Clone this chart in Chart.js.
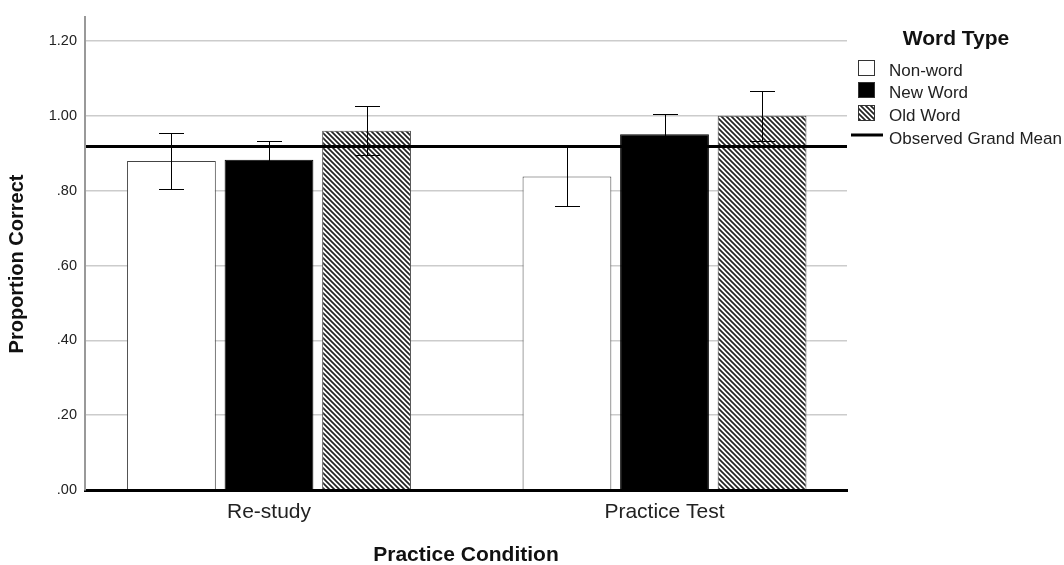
<!DOCTYPE html>
<html>
<head>
<meta charset="utf-8">
<title>Proportion Correct by Practice Condition</title>
<script src="https://cdn.jsdelivr.net/npm/chart.js@4.4.0/dist/chart.umd.min.js"></script>
<style>
  html, body { margin: 0; padding: 0; background: #fff; }
  canvas { display: block; }
</style>
</head>
<body>
<canvas id="wordChart" width="1064" height="565"></canvas>
<script>
const conditions = ['Re-study', 'Practice Test'];
const wordTypes = ['Non-word', 'New Word', 'Old Word'];
const nonWord = [0.879, 0.838];
const newWord = [0.883, 0.951];
const oldWord = [0.960, 1.000];
const nonWordErr = [0.075, 0.078];
const newWordErr = [0.051, 0.053];
const oldWordErr = [0.065, 0.067];
const grandMean = 0.918;
const yTicks = [0, 0.2, 0.4, 0.6, 0.8, 1.0, 1.2];
const yTickLabels = ['.00', '.20', '.40', '.60', '.80', '1.00', '1.20'];

const FONT = "'Liberation Sans', Arial, sans-serif";

document.addEventListener('DOMContentLoaded', function() {
    const canvas = document.getElementById('wordChart');
    const ctx = canvas.getContext('2d');

    // diagonal hatch for the Old Word bars
    function makeHatch() {
        const c = document.createElement('canvas');
        c.width = 5; c.height = 5;
        const g = c.getContext('2d');
        g.fillStyle = '#fff';
        g.fillRect(0, 0, 5, 5);
        g.strokeStyle = '#222';
        g.lineWidth = 1.7;
        g.beginPath();
        g.moveTo(-1, -1); g.lineTo(6, 6);
        g.moveTo(-1, 4); g.lineTo(1, 6);
        g.moveTo(4, -1); g.lineTo(6, 1);
        g.stroke();
        return ctx.createPattern(c, 'repeat');
    }
    const hatch = makeHatch();

    const series = [
        { values: nonWord, err: nonWordErr, fill: '#ffffff', border: '#444' },
        { values: newWord, err: newWordErr, fill: '#000000', border: '#000' },
        { values: oldWord, err: oldWordErr, fill: hatch, border: '#444' }
    ];

    const errorBars = {
        id: 'errorBars',
        afterDatasetsDraw(chart) {
            const c = chart.ctx;
            const y = chart.scales.y;
            c.save();
            c.strokeStyle = '#000';
            c.lineWidth = 1;
            chart.data.datasets.forEach((ds, di) => {
                const meta = chart.getDatasetMeta(di);
                meta.data.forEach((bar, i) => {
                    const v = ds.data[i].y;
                    const e = ds.errors[i];
                    const x = Math.round(bar.x) + 0.5;
                    const top = Math.round(y.getPixelForValue(v + e)) + 0.5;
                    const bot = Math.round(y.getPixelForValue(v - e)) + 0.5;
                    const half = 12.5;
                    c.beginPath();
                    c.moveTo(x, top); c.lineTo(x, bot);
                    c.moveTo(x - half, top); c.lineTo(x + half, top);
                    c.moveTo(x - half, bot); c.lineTo(x + half, bot);
                    c.stroke();
                });
            });
            // observed grand mean
            const gy = y.getPixelForValue(grandMean);
            c.lineWidth = 3;
            c.beginPath();
            c.moveTo(chart.chartArea.left, gy);
            c.lineTo(chart.chartArea.right, gy);
            c.stroke();

            // y axis title, centred as in the SPSS output
            c.translate(17, 264);
            c.rotate(-Math.PI / 2);
            c.fillStyle = '#111';
            c.font = 'bold 20px ' + FONT;
            c.textAlign = 'center';
            c.textBaseline = 'middle';
            c.fillText('Proportion Correct', 0, 0);
            c.restore();
        }
    };

    const sideLegend = {
        id: 'sideLegend',
        afterDraw(chart) {
            const c = chart.ctx;
            c.save();
            c.fillStyle = '#111';
            c.font = 'bold 21px ' + FONT;
            c.textAlign = 'center';
            c.textBaseline = 'alphabetic';
            c.fillText('Word Type', 956, 45);

            const boxY = [60, 82, 105];
            const textY = [76, 98, 121, 143.5];
            c.textAlign = 'left';
            c.font = '17px ' + FONT;
            series.forEach((s, i) => {
                c.fillStyle = s.fill;
                c.fillRect(858, boxY[i], 17, 16);
                c.strokeStyle = '#333';
                c.lineWidth = 1;
                c.strokeRect(858.5, boxY[i] + 0.5, 16, 15);
                c.fillStyle = '#222';
                c.fillText(wordTypes[i], 889, textY[i]);
            });
            c.strokeStyle = '#000';
            c.lineWidth = 3;
            c.beginPath();
            c.moveTo(851, 135);
            c.lineTo(883, 135);
            c.stroke();
            c.fillStyle = '#222';
            c.fillText('Observed Grand Mean', 889, textY[3]);
            c.restore();
        }
    };

    new Chart(canvas, {
        type: 'bar',
        data: {
            datasets: series.map((s, i) => ({
                label: wordTypes[i],
                data: s.values.map((v, j) => ({ x: j + 1, y: v })),
                errors: s.err,
                backgroundColor: s.fill,
                borderColor: s.border,
                borderWidth: 1,
                categoryPercentage: 0.74,
                barPercentage: 0.91
            }))
        },
        options: {
            responsive: false,
            animation: false,
            events: [],
            layout: { padding: { top: 15, right: 217, left: 0, bottom: 0 } },
            scales: {
                x: {
                    type: 'linear',
                    bounds: 'data',
                    min: 0.5348,
                    max: 2.4614,
                    offset: false,
                    grid: { display: false, drawTicks: false, offset: false },
                    border: { display: true, color: '#000', width: 3, z: 1 },
                    afterBuildTicks: (scale) => {
                        scale.ticks = conditions.map((c, i) => ({ value: i + 1 }));
                    },
                    afterFit: (scale) => { scale.height = 75; },
                    ticks: {
                        padding: 10,
                        color: '#222',
                        font: { family: FONT, size: 21 },
                        maxRotation: 0,
                        autoSkip: false,
                        callback: (v) => conditions[v - 1]
                    },
                    title: {
                        display: true,
                        text: 'Practice Condition',
                        color: '#111',
                        font: { family: FONT, size: 21, weight: 'bold', lineHeight: 1 },
                        padding: { top: 0, bottom: -1 }
                    }
                },
                y: {
                    min: 0,
                    max: 1.265,
                    bounds: 'data',
                    grid: { color: '#cccccc', lineWidth: 1.5, drawTicks: false },
                    border: { display: true, color: '#999', width: 2, z: 1 },
                    afterBuildTicks: (scale) => {
                        scale.ticks = yTicks.map(v => ({ value: v }));
                    },
                    afterFit: (scale) => { scale.width = 85; },
                    ticks: {
                        padding: 8,
                        color: '#222',
                        font: { family: FONT, size: 14.5 },
                        callback: (v) => yTickLabels[yTicks.indexOf(v)]
                    }
                }
            },
            plugins: {
                legend: { display: false },
                tooltip: { enabled: false }
            }
        },
        plugins: [errorBars, sideLegend]
    });
});
</script>
</body>
</html>
